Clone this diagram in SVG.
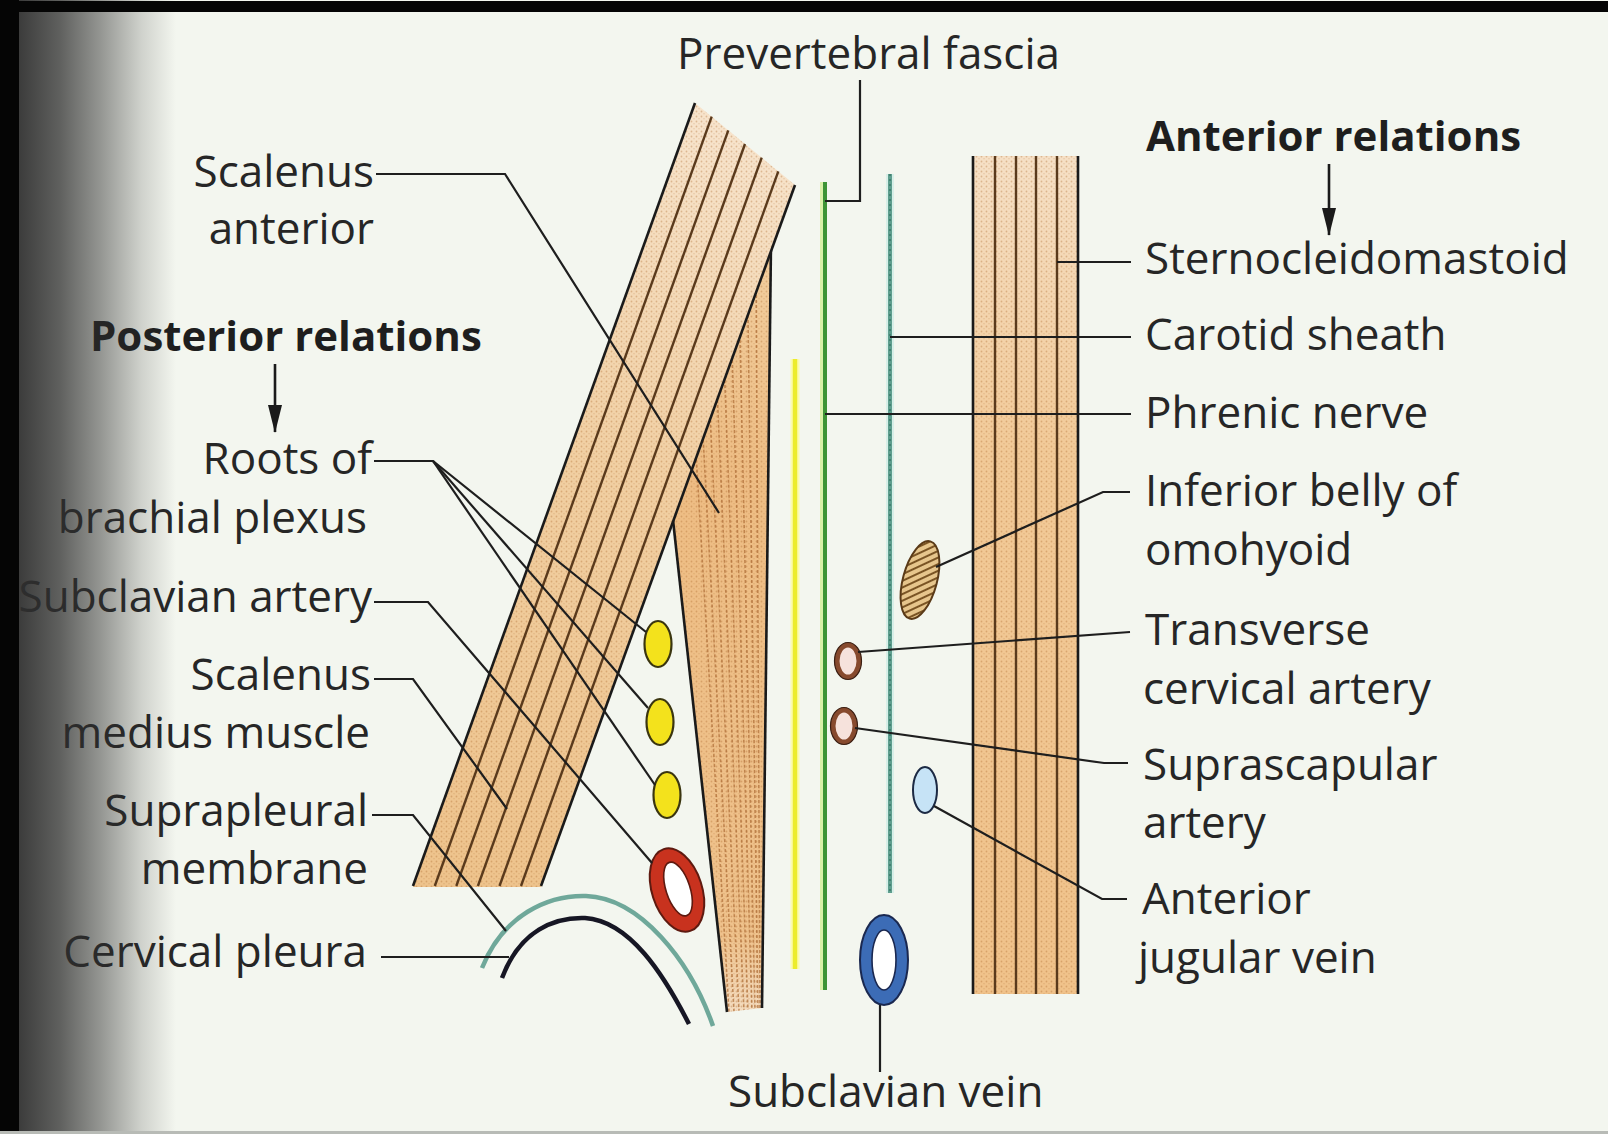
<svg xmlns="http://www.w3.org/2000/svg" width="1608" height="1134" viewBox="0 0 1608 1134">
  <defs>
    <style>
      text { font-family: "Open Sans", "Noto Sans", "Liberation Sans", sans-serif; font-size: 44px; fill: #262626; }
      .bold { font-weight: bold; font-size: 42px; fill: #1e1e1e; }
      .end { text-anchor: end; }
      .lead { fill: none; stroke: #1e1e1e; stroke-width: 2.2; stroke-linejoin: miter; }
      .edge { fill: none; stroke: #1a1a1a; stroke-width: 2.6; }
      .fibre { fill: none; stroke: #5a3a1c; stroke-width: 2.4; }
      .arrow { fill: none; stroke: #1a1a1a; stroke-width: 2.6; }
      .root { fill: #f3e21c; stroke: #3a3510; stroke-width: 2.2; }
    </style>
    <marker id="head" viewBox="0 0 28 14" refX="27" refY="7" markerWidth="28" markerHeight="14" markerUnits="userSpaceOnUse" orient="auto">
      <path d="M0,0 L28,7 L0,14 Z" fill="#1a1a1a"/>
    </marker>
    <pattern id="stipple" width="5" height="5" patternUnits="userSpaceOnUse">
      <circle cx="1.5" cy="1.5" r="0.9" fill="#a8682c" opacity="0.35"/>
      <circle cx="4" cy="3.8" r="0.7" fill="#a8682c" opacity="0.25"/>
    </pattern>
    <pattern id="hatch" width="6" height="6" patternUnits="userSpaceOnUse" patternTransform="rotate(-40)">
      <rect width="6" height="6" fill="#e6c58c"/>
      <line x1="0" y1="3" x2="6" y2="3" stroke="#7a5424" stroke-width="2"/>
    </pattern>
    <linearGradient id="bandFill" gradientUnits="userSpaceOnUse" x1="745" y1="140" x2="480" y2="886">
      <stop offset="0" stop-color="#f7e3cb"/>
      <stop offset="0.45" stop-color="#f1cfa2"/>
      <stop offset="1" stop-color="#eec38c"/>
    </linearGradient>
    <linearGradient id="triFill" gradientUnits="userSpaceOnUse" x1="0" y1="243" x2="0" y2="1012">
      <stop offset="0" stop-color="#f2cfa0"/>
      <stop offset="0.3" stop-color="#eebd84"/>
      <stop offset="0.9" stop-color="#efc28c"/>
      <stop offset="1" stop-color="#f4dcc0"/>
    </linearGradient>
    <linearGradient id="scmFill" gradientUnits="userSpaceOnUse" x1="0" y1="156" x2="0" y2="994">
      <stop offset="0" stop-color="#f6e0c6"/>
      <stop offset="0.35" stop-color="#f2ca98"/>
      <stop offset="1" stop-color="#f0c28a"/>
    </linearGradient>
    <linearGradient id="shade" gradientUnits="userSpaceOnUse" x1="19" y1="0" x2="176" y2="0">
      <stop offset="0" stop-color="#2e2e2e" stop-opacity="0.93"/>
      <stop offset="0.26" stop-color="#2e2e2e" stop-opacity="0.75"/>
      <stop offset="0.52" stop-color="#2e2e2e" stop-opacity="0.48"/>
      <stop offset="0.78" stop-color="#2e2e2e" stop-opacity="0.18"/>
      <stop offset="1" stop-color="#2e2e2e" stop-opacity="0"/>
    </linearGradient>
    <clipPath id="triClip">
      <path d="M774,243 L673,520 L727,1012 L762,1008 L771,243 Z"/>
    </clipPath>
  </defs>

  <!-- page -->
  <rect x="0" y="0" width="1608" height="1134" fill="#f3f6ef"/>

  <!-- triangular muscle behind the oblique band -->
  <g id="scalenus-anterior-muscle">
    <path d="M774,243 L673,520 L727,1012 L762,1008 L771,243 Z" fill="url(#triFill)"/>
    <path d="M774,243 L673,520 L727,1012 L762,1008 L771,243 Z" fill="url(#stipple)"/>
    <g clip-path="url(#triClip)" stroke="#b0703a" stroke-width="1.6" stroke-dasharray="3 2" opacity="0.75">
      <line x1="684" y1="250" x2="729" y2="1012"/>
      <line x1="693" y1="250" x2="734" y2="1012"/>
      <line x1="702" y1="250" x2="739" y2="1012"/>
      <line x1="711" y1="250" x2="744" y2="1012"/>
      <line x1="720" y1="250" x2="748" y2="1012"/>
      <line x1="729" y1="250" x2="752" y2="1012"/>
      <line x1="738" y1="250" x2="755" y2="1012"/>
      <line x1="747" y1="250" x2="758" y2="1012"/>
      <line x1="756" y1="250" x2="760" y2="1012"/>
    </g>
    <path class="edge" d="M673,520 L727,1012"/>
    <path class="edge" d="M771,243 L762,1008"/>
  </g>

  <!-- oblique band with fibres -->
  <g id="scalenus-medius-muscle">
    <path d="M695,103 L795,185 L541,887 L413,887 Z" fill="url(#bandFill)"/>
    <path d="M695,103 L795,185 L541,887 L413,887 Z" fill="url(#stipple)"/>
    <line class="fibre" x1="711.7" y1="116.7" x2="434.8" y2="886"/>
    <line class="fibre" x1="728.3" y1="130.3" x2="456.3" y2="886"/>
    <line class="fibre" x1="745" y1="144" x2="477.9" y2="886"/>
    <line class="fibre" x1="761.7" y1="157.7" x2="499.5" y2="886"/>
    <line class="fibre" x1="778.3" y1="171.3" x2="521" y2="886"/>
    <line class="edge" x1="695" y1="103" x2="413" y2="886"/>
    <line class="edge" x1="795" y1="185" x2="541" y2="886"/>
  </g>

  <!-- sternocleidomastoid -->
  <g id="sternocleidomastoid-muscle">
    <rect x="973" y="156" width="105" height="838" fill="url(#scmFill)"/>
    <rect x="973" y="156" width="105" height="838" fill="url(#stipple)"/>
    <line class="fibre" x1="995" y1="156" x2="995" y2="994" stroke="#74481e"/>
    <line class="fibre" x1="1016" y1="156" x2="1016" y2="994" stroke="#74481e"/>
    <line class="fibre" x1="1036" y1="156" x2="1036" y2="994" stroke="#74481e"/>
    <line class="fibre" x1="1057" y1="156" x2="1057" y2="994" stroke="#74481e"/>
    <line class="edge" x1="973" y1="156" x2="973" y2="994"/>
    <line class="edge" x1="1078" y1="156" x2="1078" y2="994"/>
  </g>

  <!-- vertical layers -->
  <g id="yellow-layer">
    <line x1="795" y1="359" x2="795" y2="969" stroke="#fbfbb0" stroke-width="9"/>
    <line x1="795" y1="359" x2="795" y2="969" stroke="#ecec2c" stroke-width="4.5"/>
  </g>
  <g id="prevertebral-fascia-line">
    <line x1="822" y1="182" x2="822" y2="990" stroke="#d9f0a8" stroke-width="4"/>
    <line x1="825" y1="182" x2="825" y2="990" stroke="#3d9436" stroke-width="4"/>
  </g>
  <g id="carotid-sheath-line">
    <line x1="890" y1="174" x2="890" y2="893" stroke="#d8efe8" stroke-width="8"/>
    <line x1="890" y1="174" x2="890" y2="893" stroke="#5e9e8e" stroke-width="4"/>
    <line x1="890" y1="174" x2="890" y2="893" stroke="#3e7a6c" stroke-width="1.6" stroke-dasharray="2 3"/>
  </g>

  <!-- pleura -->
  <g id="suprapleural-membrane">
    <path d="M482,968 C503,915 548,895 586,896 C640,898 690,960 713,1026" fill="none" stroke="#6fa89a" stroke-width="4.5"/>
  </g>
  <g id="cervical-pleura">
    <path d="M502,978 C520,930 555,917 585,918 C630,921 664,975 689,1024" fill="none" stroke="#161624" stroke-width="4.5"/>
  </g>

  <!-- roots of brachial plexus -->
  <g id="brachial-plexus-roots">
    <ellipse class="root" cx="658" cy="644" rx="13.5" ry="23"/>
    <ellipse class="root" cx="660" cy="722" rx="13.5" ry="23"/>
    <ellipse class="root" cx="667" cy="795" rx="13.5" ry="23"/>
  </g>

  <!-- subclavian artery -->
  <g id="subclavian-artery">
    <ellipse cx="677" cy="890" rx="25" ry="43" transform="rotate(-18 677 890)" fill="#c8321e" stroke="#5e1a10" stroke-width="2"/>
    <ellipse cx="678" cy="889" rx="12" ry="28" transform="rotate(-18 678 889)" fill="#ffffff" stroke="#5e1a10" stroke-width="1.6"/>
  </g>

  <!-- inferior belly of omohyoid -->
  <g id="omohyoid">
    <ellipse cx="920" cy="580" rx="17" ry="40" transform="rotate(15 920 580)" fill="url(#hatch)" stroke="#5a3a18" stroke-width="2"/>
  </g>

  <!-- small arteries -->
  <g id="transverse-cervical-artery">
    <ellipse cx="848" cy="661" rx="11" ry="16" fill="#f6e2dc" stroke="#874a2e" stroke-width="5"/>
    <ellipse cx="848" cy="661" rx="13.5" ry="18.5" fill="none" stroke="#3a1e12" stroke-width="1.2"/>
  </g>
  <g id="suprascapular-artery">
    <ellipse cx="844" cy="726" rx="11" ry="16" fill="#f6e2dc" stroke="#874a2e" stroke-width="5"/>
    <ellipse cx="844" cy="726" rx="13.5" ry="18.5" fill="none" stroke="#3a1e12" stroke-width="1.2"/>
  </g>

  <!-- veins -->
  <g id="anterior-jugular-vein">
    <ellipse cx="925" cy="790" rx="12" ry="23" fill="#c6e3f6" stroke="#1c2a44" stroke-width="2"/>
  </g>
  <g id="subclavian-vein">
    <ellipse cx="884" cy="960" rx="24" ry="45" fill="#3c6cb6" stroke="#1a2850" stroke-width="2"/>
    <ellipse cx="884" cy="960" rx="12" ry="30" fill="#ffffff" stroke="#1a2850" stroke-width="1.6"/>
  </g>

  <!-- leader lines and arrows -->
  <g id="connectors">
    <path class="lead" d="M860,80 L860,201 L825,201"/>
    <path class="lead" d="M376,174 L505,174 L719,513"/>
    <path class="lead" d="M374,461 L433,461 L646,632"/>
    <path class="lead" d="M433,461 L648,708"/>
    <path class="lead" d="M433,461 L655,785"/>
    <path class="lead" d="M374,602 L428,602 L652,863"/>
    <path class="lead" d="M374,679 L413,679 L507,809"/>
    <path class="lead" d="M372,815 L413,815 L506,931"/>
    <path class="lead" d="M381,957 L509,957"/>
    <path class="lead" d="M1057,262 L1131,262"/>
    <path class="lead" d="M890,337 L1131,337"/>
    <path class="lead" d="M825,414 L1131,414"/>
    <path class="lead" d="M936,567 L1103,492 L1130,492"/>
    <path class="lead" d="M858,652 L1130,632"/>
    <path class="lead" d="M855,728 L1104,763 L1128,763"/>
    <path class="lead" d="M934,806 L1102,899 L1127,899"/>
    <path class="lead" d="M880,1005 L880,1072"/>
    <path class="arrow" d="M275,364 L275,432" marker-end="url(#head)"/>
    <path class="arrow" d="M1329,164 L1329,235" marker-end="url(#head)"/>
  </g>

  <!-- labels -->
  <g id="labels">
    <text x="677" y="69">Prevertebral fascia</text>
    <text class="end" x="374" y="187">Scalenus</text>
    <text class="end" x="374" y="244">anterior</text>
    <text class="bold" x="90" y="351">Posterior relations</text>
    <text class="end" x="372" y="474">Roots of</text>
    <text class="end" x="367" y="533">brachial plexus</text>
    <text class="end" x="372" y="612">Subclavian artery</text>
    <text class="end" x="371" y="690">Scalenus</text>
    <text class="end" x="370" y="748">medius muscle</text>
    <text class="end" x="368" y="826">Suprapleural</text>
    <text class="end" x="368" y="884">membrane</text>
    <text class="end" x="367" y="967">Cervical pleura</text>
    <text class="bold" x="1146" y="151">Anterior relations</text>
    <text x="1145" y="274">Sternocleidomastoid</text>
    <text x="1145" y="350">Carotid sheath</text>
    <text x="1145" y="428">Phrenic nerve</text>
    <text x="1145" y="506">Inferior belly of</text>
    <text x="1145" y="565">omohyoid</text>
    <text x="1145" y="645">Transverse</text>
    <text x="1143" y="704">cervical artery</text>
    <text x="1143" y="780">Suprascapular</text>
    <text x="1143" y="838">artery</text>
    <text x="1142" y="914">Anterior</text>
    <text x="1138" y="973">jugular vein</text>
    <text x="728" y="1107">Subclavian vein</text>
  </g>

  <!-- page frame and binding shadow -->
  <g id="frame">
    <rect x="19" y="0" width="157" height="1134" fill="url(#shade)"/>
    <rect x="0" y="0" width="19" height="1134" fill="#050505"/>
    <rect x="0" y="1" width="1608" height="11" fill="#050505"/>
    <rect x="0" y="1131" width="1608" height="3" fill="#b8bbb6"/>
  </g>
</svg>
